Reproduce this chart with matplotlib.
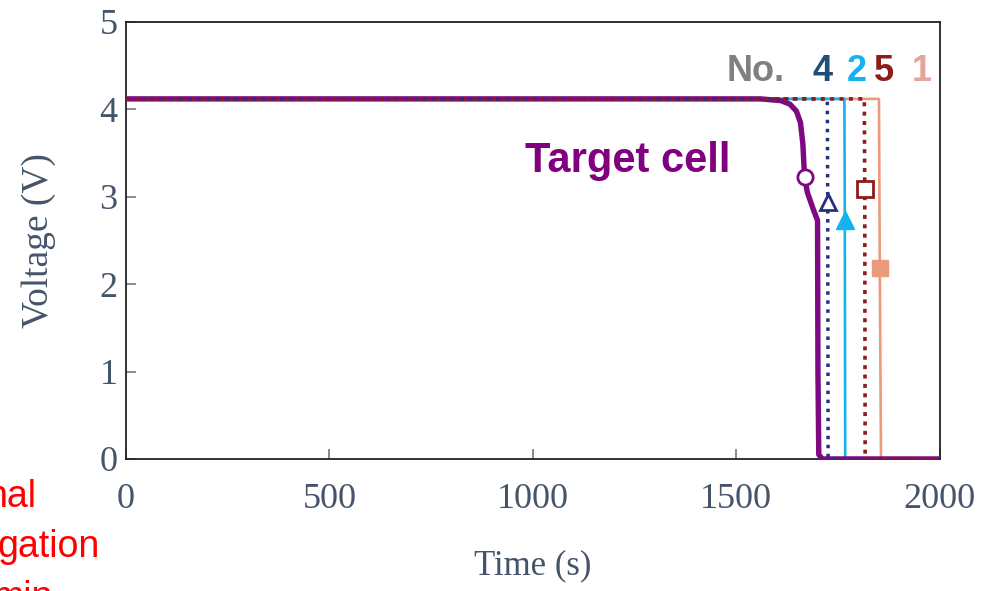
import matplotlib.pyplot as plt

# Discharge curves of the target cell and the four neighbour cells
target_t = [0, 1560, 1610, 1632, 1648, 1658, 1664, 1668, 1675, 1690, 1700, 1701, 1703, 1712, 2000]
target_v = [4.12, 4.12, 4.10, 4.06, 3.98, 3.85, 3.60, 3.23, 3.05, 2.85, 2.73, 1.0, 0.05, 0.0, 0.0]
target_mark = 7

cell4_t = [0, 1724, 1725, 1726, 2000]
cell4_v = [4.12, 4.12, 2.94, 0.0, 0.0]

cell2_t = [0, 1766, 1767, 1768, 2000]
cell2_v = [4.12, 4.12, 2.73, 0.0, 0.0]

cell5_t = [0, 1815, 1816, 1817, 2000]
cell5_v = [4.12, 4.12, 3.09, 0.0, 0.0]

cell1_t = [0, 1851, 1853, 1856, 2000]
cell1_v = [4.12, 4.12, 2.18, 0.0, 0.0]

x_ticks = [0, 500, 1000, 1500, 2000]
y_ticks = [0, 1, 2, 3, 4, 5]

cell_labels = ["4", "2", "5", "1"]
cell_label_x = [1688, 1771, 1838, 1931]

PURPLE = "#7d0a82"
NAVY = "#27307c"
CYAN = "#14b3f0"
DARKRED = "#8e1c1c"
SALMON = "#ec9a7c"
TICK_TXT = "#44546a"

fig = plt.figure(figsize=(9.88, 5.91), dpi=100)
ax = fig.add_axes([0.1275, 0.2234, 0.8235, 0.7394])

# bottom to top: 1, 2, target, 4, 5
ax.plot(cell1_t, cell1_v, color=SALMON, lw=1.9, marker="s", ms=12,
        markevery=[2], mfc=SALMON, mec=SALMON, zorder=2)
ax.plot(cell2_t, cell2_v, color=CYAN, lw=1.9, marker="^", ms=13,
        markevery=[2], mfc=CYAN, mec=CYAN, zorder=2)
ax.plot(target_t, target_v, color=PURPLE, lw=3.9, marker="o", ms=11,
        markevery=[target_mark], mfc="white", mec=PURPLE, mew=2,
        solid_joinstyle="round", zorder=3)
ax.plot(cell4_t, cell4_v, color=NAVY, lw=2.5, ls=(0, (1.0, 1.6)), marker="^",
        ms=12, markevery=[2], mfc="white", mec=NAVY, mew=2, zorder=4)
ax.plot(cell5_t, cell5_v, color=DARKRED, lw=2.6, ls=(0, (1.1, 1.5)), marker="s",
        ms=12, markevery=[2], mfc="white", mec=DARKRED, mew=2, zorder=5)

ax.set_xlim(0, 2000)
ax.set_ylim(0, 5)
ax.set_xticks(x_ticks)
ax.set_yticks(y_ticks)

serif = "Liberation Serif"
ax.tick_params(direction="in", length=7, width=1.2, color="#777777",
               labelcolor=TICK_TXT, labelsize=26)
ax.tick_params(axis="x", pad=17)
ax.tick_params(axis="y", pad=6)
for lab in ax.get_xticklabels() + ax.get_yticklabels():
    lab.set_fontfamily(serif)
for sp in ax.spines.values():
    sp.set_color("#222222")
    sp.set_linewidth(1.3)

ax.set_xlabel("Time (s)", fontsize=25, family=serif, color=TICK_TXT, labelpad=24)
ax.set_ylabel("Voltage (V)", fontsize=27, family=serif, color=TICK_TXT, labelpad=31)

sans = "Liberation Sans"
ax.text(980, 3.28, "Target cell", color="#800080", fontsize=30,
        fontweight="bold", family=sans, va="baseline", ha="left")
ax.text(1477, 4.33, "No.", color="#808080", fontsize=26, fontweight="bold",
        family=sans, va="baseline", ha="left", clip_on=False)
for lab, x, c in zip(cell_labels, cell_label_x, ["#1f4e79", CYAN, DARKRED, "#e6a29c"]):
    ax.text(x, 4.33, lab, color=c, fontsize=26, fontweight="bold",
            family=sans, va="baseline", ha="left", clip_on=False)

# side note running off the left edge
red_kw = dict(color="red", fontsize=27, family=sans, va="baseline", ha="left")
fig.text(-14 / 988, 84 / 591, "nal", **red_kw)
fig.text(-3 / 988, 34 / 591, "gation", **red_kw)
fig.text(-8 / 988, -17 / 591, "min", **red_kw)

fig.savefig("out.png", dpi=100)
